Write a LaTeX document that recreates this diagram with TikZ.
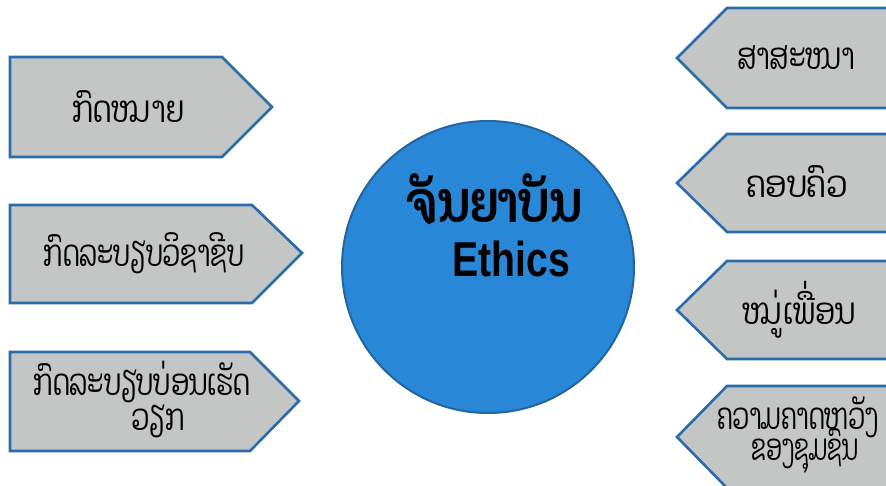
\documentclass[tikz,border=0pt]{standalone}
\usepackage{fontspec}
\setmainfont{Liberation Sans}
\newfontfamily\laofont[Script=Lao]{Dhyana}
\definecolor{boxgray}{RGB}{196,197,197}
\definecolor{edgeblue}{RGB}{42,108,170}
\definecolor{discblue}{RGB}{40,135,214}
\definecolor{discedge}{RGB}{36,100,160}
% Lao label: horizontal stretch #1, text #2
\newcommand{\laotag}[2]{\scalebox{#1}[1.32]{\laofont\fontsize{28}{32}\selectfont #2}}
\tikzset{
  tag/.style={fill=boxgray, draw=edgeblue, line width=2.6pt, line join=miter},
  laolabel/.style={inner sep=0pt, anchor=center},
}
\begin{document}
\begin{tikzpicture}[x=1pt, y=-1pt]
  \useasboundingbox (0,0) rectangle (886,485);
  \clip (0,0) rectangle (886,485);
  \fill[white] (0,0) rectangle (886,485);

  % left tags, pointing right
  \draw[tag] (10,57) -- (222,57) -- (272,107) -- (222,157) -- (10,157) -- cycle;
  \draw[tag] (10,205) -- (252,205) -- (302,253) -- (252,303) -- (10,303) -- cycle;
  \draw[tag] (10,352) -- (250,352) -- (299,401) -- (250,451) -- (10,451) -- cycle;

  % right tags, pointing left, running off the right edge
  \draw[tag] (895,8) -- (727,8) -- (677,58) -- (727,108) -- (895,108);
  \draw[tag] (895,134) -- (727,134) -- (677,183) -- (727,232) -- (895,232);
  \draw[tag] (895,261) -- (727,261) -- (677,310) -- (727,359) -- (895,359);
  \draw[tag] (895,386) -- (727,386) -- (677,437) -- (727,488) -- (895,488);

  % central disc
  \node[circle, fill=discblue, draw=discedge, line width=2pt, minimum size=292pt, inner sep=0pt] (hub) at (488,267) {};
  \node[inner sep=0pt] (hubtitle) at (494,199) {\scalebox{1.1}[1.45]{\laofont\bfseries\fontsize{40}{44}\selectfont ຈັນຍາບັນ}};
  \node[inner sep=0pt] (hubsub) at (511,259) {\scalebox{0.8}[1]{\bfseries\fontsize{49}{54}\selectfont Ethics}};

  % labels
  \node[laolabel] (law) at (128,107) {\laotag{1.02}{ກົດໝາຍ}};
  \node[laolabel] (prof) at (144,253) {\laotag{0.93}{ກົດລະບຽບວິຊາຊີບ}};
  \node[laolabel] (work1) at (142,382) {\laotag{0.94}{ກົດລະບຽບບ່ອນເຮັດ}};
  \node[laolabel] (work2) at (158,421) {\laotag{0.94}{ວຽກ}};
  \node[laolabel] (relig) at (796,58) {\laotag{0.95}{ສາສະໜາ}};
  \node[laolabel] (family) at (797,182) {\laotag{1.1}{ຄອບຄົວ}};
  \node[laolabel] (friends) at (799,310) {\laotag{1.03}{ໝູ່ເພື່ອນ}};
  \node[laolabel] (comm1) at (798,417) {\laotag{0.88}{ຄວາມຄາດຫ\kern0ptວັງ}};
  \node[laolabel] (comm2) at (805,451) {\laotag{0.82}{ຂອງຊຸມຊົນ}};
\end{tikzpicture}
\end{document}
